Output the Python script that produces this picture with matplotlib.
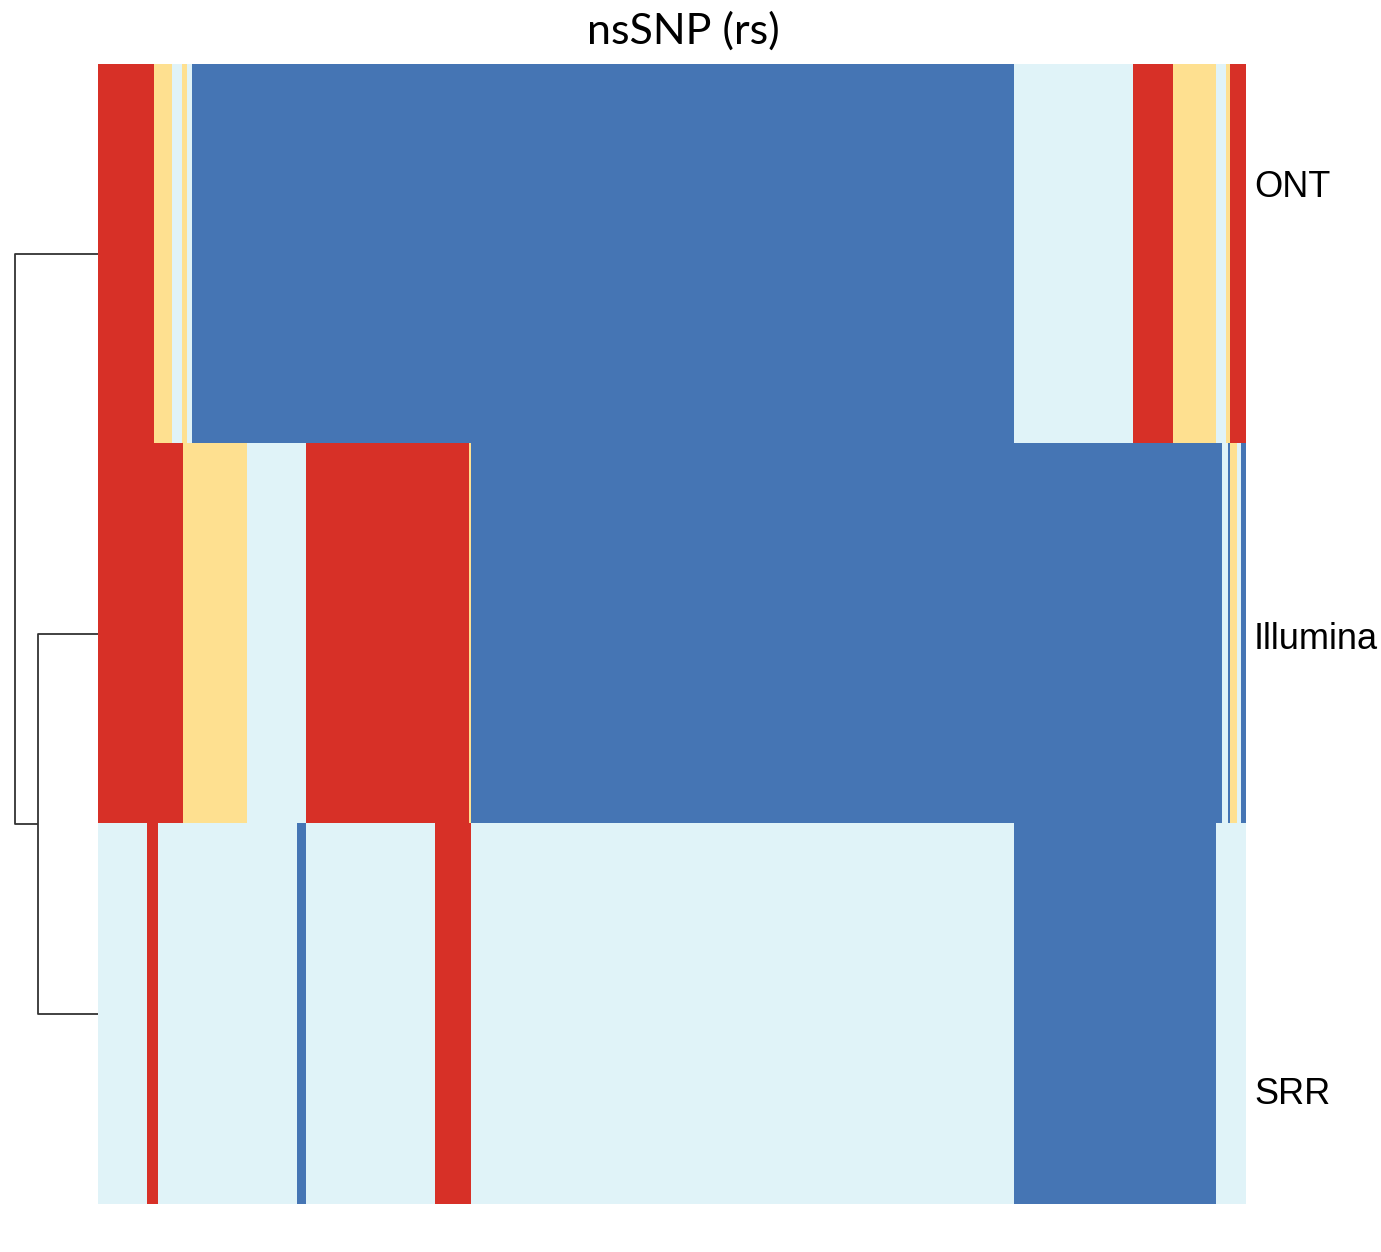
"""Genotype heatmap of nsSNP (rs) calls per platform, with row dendrogram."""
import numpy as np
import matplotlib
matplotlib.use("Agg")
import matplotlib.pyplot as plt
from matplotlib.colors import ListedColormap

# genotype codes: 0 = hom-alt (blue), 1 = missing (light), 2 = het (yellow), 3 = hom-ref (red)
rows = ["ONT", "Illumina", "SRR"]
ont_runs = [(56, 3), (18, 2), (10, 1), (5, 2), (5, 1), (822, 0), (119, 1),
            (40, 3), (43, 2), (10, 1), (4, 2), (16, 3)]
illumina_runs = [(85, 3), (64, 2), (59, 1), (163, 3), (2, 2), (751, 0),
                 (6, 1), (2, 0), (7, 2), (4, 1), (5, 0)]
srr_runs = [(49, 1), (11, 3), (139, 1), (9, 0), (129, 1), (36, 3),
            (543, 1), (202, 0), (30, 1)]
colors = ["#4575B4", "#E0F3F8", "#FEE090", "#D73027"]

# row label anchor (in row units from the top) and dendrogram merge heights
label_pos = [0.324, 1.515, 2.711]
merge_sub = 0.72    # Illumina + SRR
merge_root = 1.0    # ONT + (Illumina, SRR)


def expand(runs):
    return np.concatenate([np.full(n, code) for n, code in runs])


mat = np.vstack([expand(ont_runs), expand(illumina_runs), expand(srr_runs)])
ncol = mat.shape[1]

W, H = 1381, 1252
fig = plt.figure(figsize=(W / 100, H / 100), dpi=100)
x0, x1, y0, y1 = 98, 1246, 64, 1204
ax = fig.add_axes([x0 / W, 1 - y1 / H, (x1 - x0) / W, (y1 - y0) / H])
ax.imshow(mat, cmap=ListedColormap(colors), vmin=-0.5, vmax=3.5,
          aspect="auto", interpolation="nearest",
          extent=(0, ncol, len(rows), 0))
ax.set_xlim(0, ncol); ax.set_ylim(len(rows), 0)
ax.axis("off")
for name, yp in zip(rows, label_pos):
    ax.text(ncol + 8, yp, name, va="center", ha="left",
            fontsize=26, family="Liberation Sans")

# dendrogram to the left
dax = fig.add_axes([0, 1 - y1 / H, x0 / W, (y1 - y0) / H])
dax.set_xlim(merge_root * x0 / (x0 - 15), 0)
dax.set_ylim(len(rows), 0)
dax.axis("off")
c = [0.5, 1.5, 2.5]
kw = dict(color="#333333", lw=1.3, solid_capstyle="butt")
dax.plot([0, merge_sub, merge_sub, 0], [c[1], c[1], c[2], c[2]], **kw)
mid = (c[1] + c[2]) / 2
dax.plot([0, merge_root, merge_root, merge_sub], [c[0], c[0], mid, mid], **kw)

fig.text(683 / W, 1 - 31 / H, "nsSNP (rs)", ha="center", va="center",
         fontsize=31, family="Lato")
fig.savefig("out.png", dpi=100)
